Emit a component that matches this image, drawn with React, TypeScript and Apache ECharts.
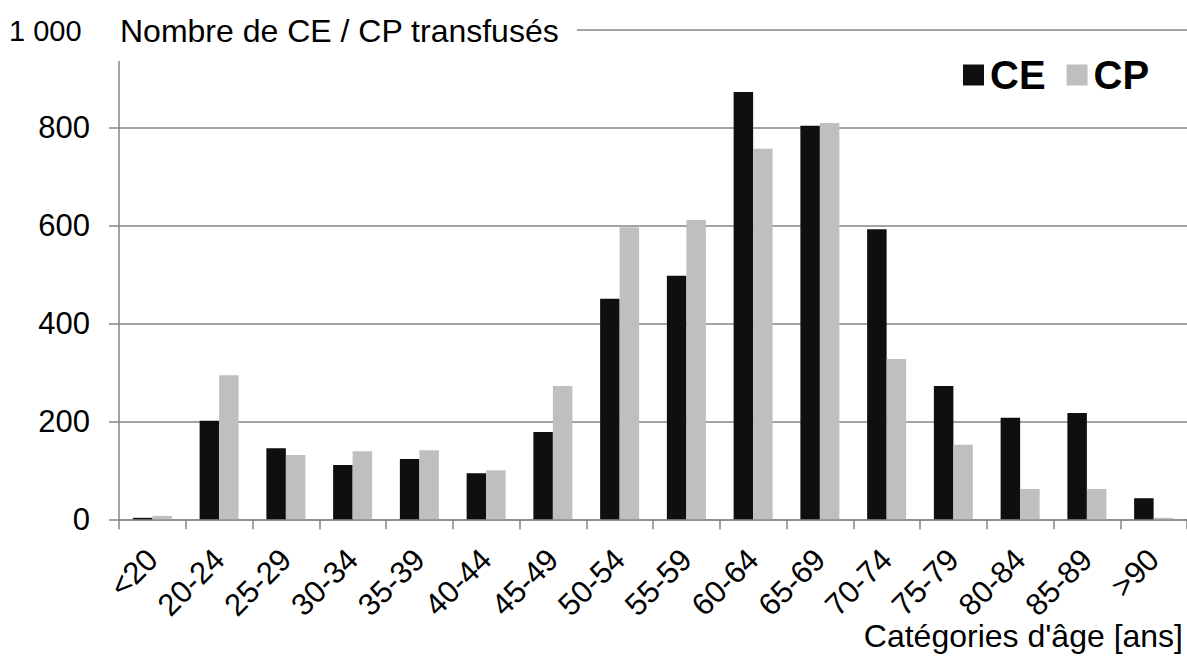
import React, { useEffect, useRef } from "react";
import * as echarts from "echarts";

const categories = ["<20", "20-24", "25-29", "30-34", "35-39", "40-44", "45-49", "50-54", "55-59", "60-64", "65-69", "70-74", "75-79", "80-84", "85-89", ">90"];
const ceValues = [3, 201, 145, 111, 123, 94, 178, 450, 497, 872, 803, 592, 272, 207, 217, 43];
const cpValues = [7, 294, 131, 139, 141, 100, 272, 596, 611, 756, 809, 327, 152, 62, 62, 3];
const yTicks = { min: 0, max: 1000, interval: 200 };

const FONT = "'Liberation Sans', Arial, sans-serif";
const AXIS_GRAY = "#868686";

export default function App() {
  const ref = useRef<HTMLDivElement>(null);
  useEffect(() => {
    if (!ref.current) return;
    const chart = echarts.init(ref.current, null, { renderer: "svg" });
    chart.setOption({
      animation: false,
      backgroundColor: "#ffffff",
      grid: { left: 119, top: 29.3, width: 1080, bottom: 148.7, containLabel: false },
      legend: {
        data: ["CE", "CP"],
        left: 958,
        top: 50,
        icon: "rect",
        itemWidth: 21,
        itemHeight: 21,
        itemGap: 21,
        textStyle: { fontSize: 40, fontWeight: "bold", color: "#000", fontFamily: FONT, padding: [0, 0, 0, 1] },
      },
      xAxis: {
        type: "category",
        data: categories,
        boundaryGap: true,
        axisLine: { show: true, lineStyle: { color: AXIS_GRAY, width: 1.5 } },
        axisTick: { show: true, length: 10, interval: 0, lineStyle: { color: AXIS_GRAY, width: 1.5 } },
        axisLabel: { interval: 0, rotate: 45, margin: 35, fontSize: 31, color: "#000", fontFamily: FONT },
        splitLine: { show: false },
      },
      yAxis: {
        type: "value",
        min: yTicks.min,
        max: yTicks.max,
        interval: yTicks.interval,
        axisLine: { show: true, lineStyle: { color: AXIS_GRAY, width: 1.5 } },
        axisTick: { show: true, length: 10, lineStyle: { color: AXIS_GRAY, width: 1.5 } },
        axisLabel: {
          margin: 29,
          fontSize: 31,
          color: "#000",
          fontFamily: FONT,
          formatter: (v: number) => (v === 1000 ? "" : String(v)),
        },
        splitLine: { show: true, lineStyle: { color: AXIS_GRAY, width: 1.5 } },
      },
      series: [
        { name: "CE", type: "bar", data: ceValues, barWidth: 19.5, barGap: "0%", itemStyle: { color: "#0f0f0f" } },
        { name: "CP", type: "bar", data: cpValues, barWidth: 19.5, barGap: "0%", itemStyle: { color: "#bfbfbf" } },
      ],
      graphic: [
        { type: "rect", left: 0, top: 0, shape: { width: 577, height: 61 }, style: { fill: "#ffffff" }, z: 100 },
        {
          type: "text",
          x: 9,
          y: 31,
          z: 101,
          style: { text: "1 000", fontSize: 29, fill: "#000", fontFamily: FONT, verticalAlign: "middle", align: "left" },
        },
        {
          type: "text",
          x: 120,
          y: 31,
          z: 101,
          style: { text: "Nombre de CE / CP transfusés", fontSize: 32, fill: "#000", fontFamily: FONT, verticalAlign: "middle", align: "left" },
        },
        {
          type: "text",
          x: 1183,
          y: 636,
          z: 101,
          style: { text: "Catégories d'âge [ans]", fontSize: 32, fill: "#000", fontFamily: FONT, verticalAlign: "middle", align: "right" },
        },
      ],
    });
    return () => chart.dispose();
  }, []);
  return <div ref={ref} style={{ position: "absolute", left: 0, top: 0, width: 1187, height: 668 }} />;
}
